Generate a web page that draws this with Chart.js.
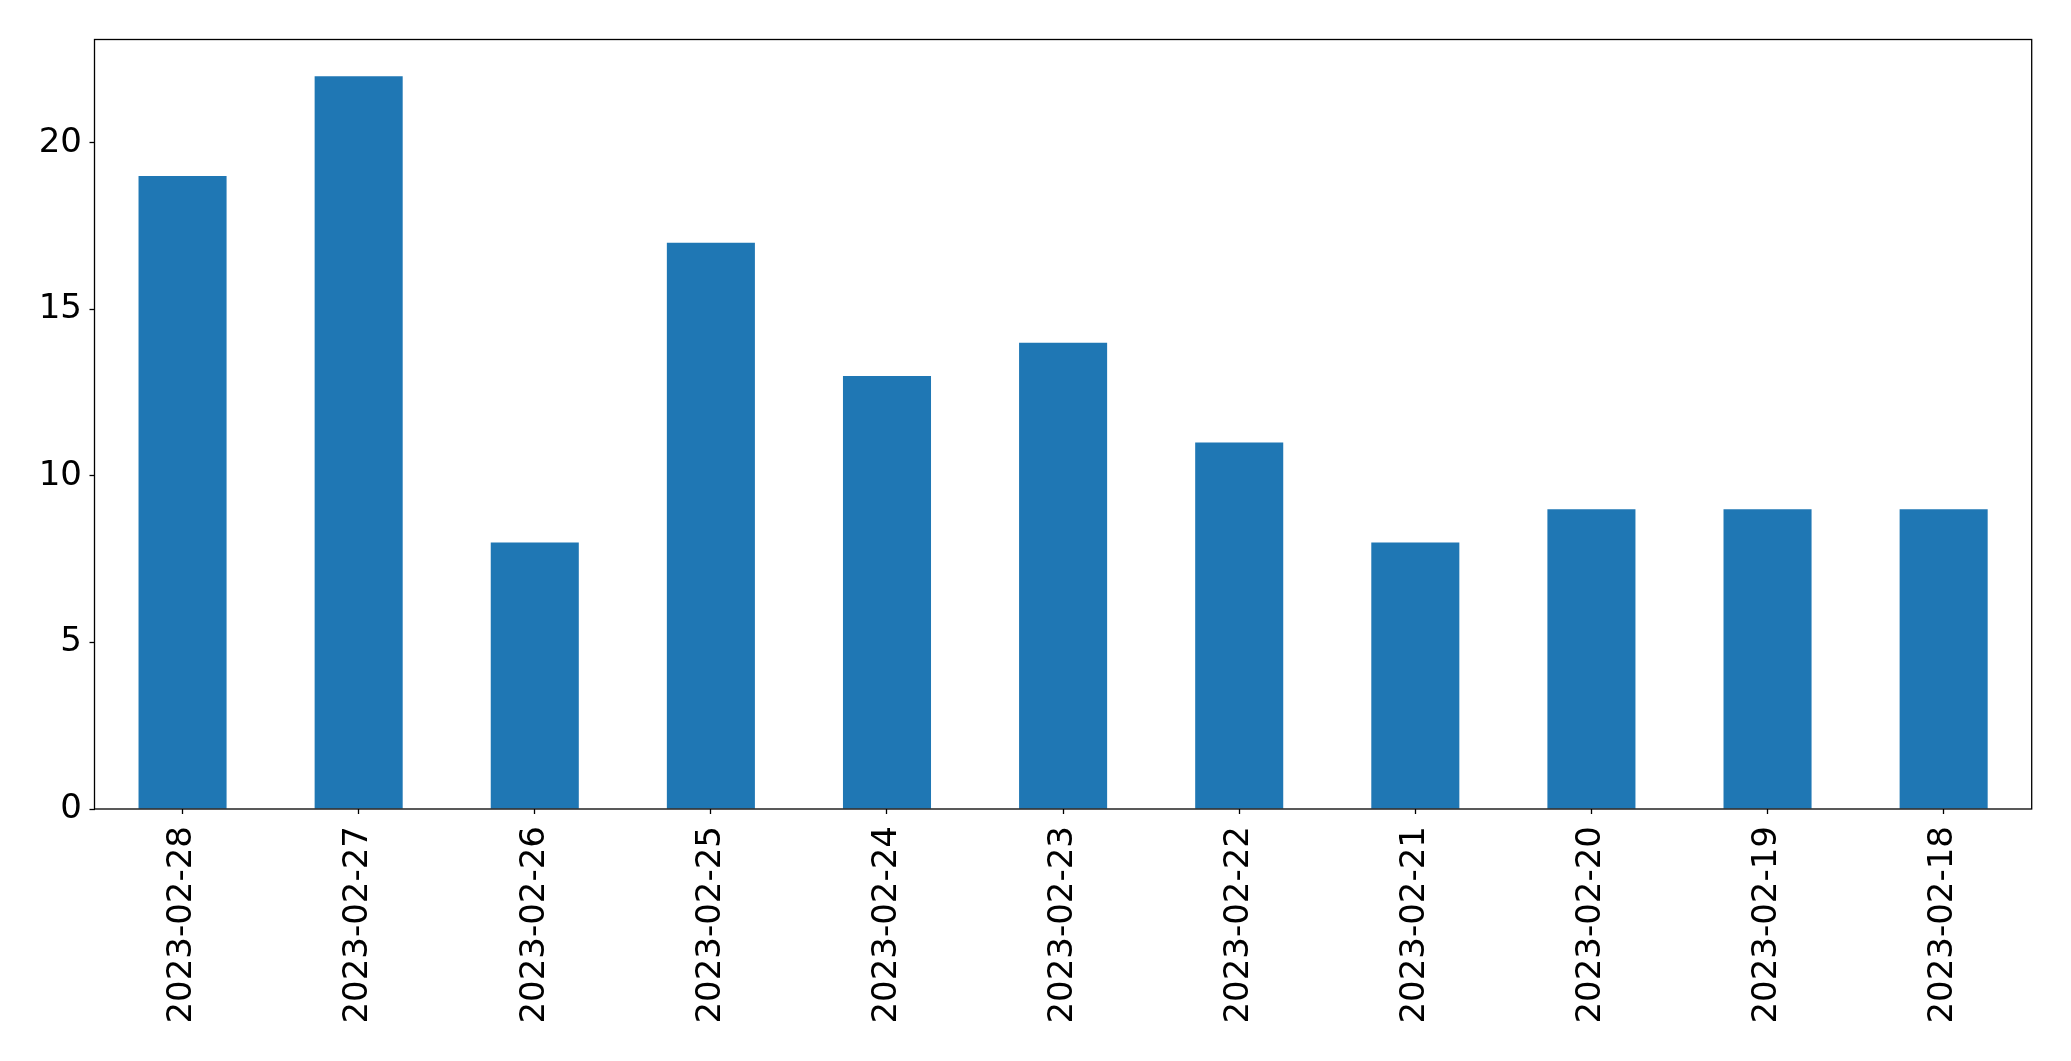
<!DOCTYPE html>
<html>
<head>
<meta charset="utf-8">
<script src="https://cdn.jsdelivr.net/npm/chart.js@4"></script>
<style>
    html, body { margin: 0; padding: 0; background: #ffffff; }
    canvas { display: block; }
</style>
</head>
<body>
<canvas id="dateChart" width="2071" height="1061"></canvas>
<script>
const dates = ["2023-02-28", "2023-02-27", "2023-02-26", "2023-02-25", "2023-02-24", "2023-02-23",
    "2023-02-22", "2023-02-21", "2023-02-20", "2023-02-19", "2023-02-18"];
const counts = [19, 22, 8, 17, 13, 14, 11, 8, 9, 9, 9];
const yTicks = [0, 5, 10, 15, 20];

const axisFont = { family: "DejaVu Sans", size: 34 };

// frame round the plot area, like matplotlib's spines
const frameBox = {
    id: "frameBox",
    afterDraw(chart) {
        const { ctx, chartArea } = chart;
        ctx.save();
        ctx.strokeStyle = "#000000";
        ctx.lineWidth = 1.3;
        ctx.strokeRect(chartArea.left, chartArea.top, chartArea.right - chartArea.left, chartArea.bottom - chartArea.top);
        ctx.restore();
    }
};

const chart = new Chart(document.getElementById("dateChart").getContext("2d"), {
    type: "bar",
    data: {
        labels: dates,
        datasets: [
            {
                data: counts,
                backgroundColor: "#1f77b4",
                borderWidth: 0,
                categoryPercentage: 1.0,
                barPercentage: 0.5
            }
        ]
    },
    options: {
        responsive: false,
        animation: false,
        layout: { padding: { top: 39.5, right: 39.3, left: 0, bottom: 0 } },
        plugins: { legend: { display: false }, tooltip: { enabled: false } },
        scales: {
            x: {
                offset: true,
                grid: { display: true, drawOnChartArea: false, offset: false, color: "#000000", tickLength: 5, tickWidth: 1.3 },
                border: { display: false },
                ticks: { font: axisFont, color: "#000000", minRotation: 90, maxRotation: 90, padding: 12, autoSkip: false },
                afterFit(scale) { scale.height = 252; }
            },
            y: {
                min: 0,
                max: 23.1,
                grid: { display: true, drawOnChartArea: false, color: "#000000", tickLength: 5, tickWidth: 1.3 },
                border: { display: false },
                ticks: { font: axisFont, color: "#000000", stepSize: 5, includeBounds: false, padding: 7.5,
                    callback: (v) => yTicks.includes(v) ? String(v) : "" },
                afterFit(scale) { scale.width = 94.5; }
            }
        }
    },
    plugins: [frameBox]
});
</script>
</body>
</html>
